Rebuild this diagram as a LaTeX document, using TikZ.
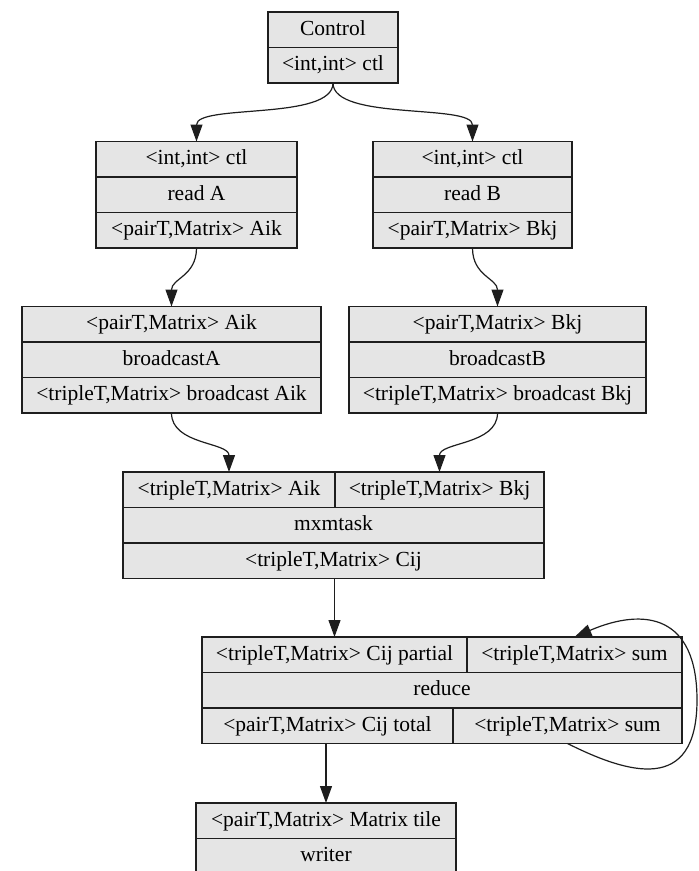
\documentclass[tikz,border=0pt]{standalone}
\usepackage{fontspec}
\setmainfont{Liberation Serif}
\usetikzlibrary{arrows.meta}
\definecolor{boxfill}{RGB}{229,229,229}
\definecolor{linec}{RGB}{30,30,30}
\newcommand{\fnt}{\fontsize{21.5}{25}\selectfont}
\tikzset{
  fld/.style={draw=linec, fill=boxfill, line width=1.1pt, inner sep=0pt, outer sep=0pt,
    text height=15pt, text depth=4.5pt, font=\fnt, minimum height=35.5pt, anchor=center},
  edge/.style={draw=linec, line width=1.2pt, -{Triangle[length=17pt,width=12pt]}}
}
\begin{document}
\begin{tikzpicture}[x=1pt,y=-1pt]
\useasboundingbox (0,0) rectangle (699,871);
% Control
\node[fld, minimum width=130pt] (c1) at (333,29.75) {Control};
\node[fld, minimum width=130pt] (c2) at (333,65.25) {<int,int> ctl};
% read A
\node[fld, minimum width=201pt] (rA1) at (196.5,159.25) {<int,int> ctl};
\node[fld, minimum width=201pt] (rA2) at (196.5,194.75) {read A};
\node[fld, minimum width=201pt] (rA3) at (196.5,230.25) {<pairT,Matrix> Aik};
% read B
\node[fld, minimum width=199pt] (rB1) at (472.5,159.25) {<int,int> ctl};
\node[fld, minimum width=199pt] (rB2) at (472.5,194.75) {read B};
\node[fld, minimum width=199pt] (rB3) at (472.5,230.25) {<pairT,Matrix> Bkj};
% broadcastA
\node[fld, minimum width=299pt] (bA1) at (171.5,324.25) {<pairT,Matrix> Aik};
\node[fld, minimum width=299pt] (bA2) at (171.5,359.75) {broadcastA};
\node[fld, minimum width=299pt] (bA3) at (171.5,395.25) {<tripleT,Matrix> broadcast Aik};
% broadcastB
\node[fld, minimum width=297pt] (bB1) at (497.5,324.25) {<pairT,Matrix> Bkj};
\node[fld, minimum width=297pt] (bB2) at (497.5,359.75) {broadcastB};
\node[fld, minimum width=297pt] (bB3) at (497.5,395.25) {<tripleT,Matrix> broadcast Bkj};
% mxmtask
\node[fld, minimum width=212pt] (m1L) at (229,489.75) {<tripleT,Matrix> Aik};
\node[fld, minimum width=209pt] (m1R) at (439.5,489.75) {<tripleT,Matrix> Bkj};
\node[fld, minimum width=421pt] (m2) at (333.5,525.25) {mxmtask};
\node[fld, minimum width=421pt] (m3) at (333.5,560.75) {<tripleT,Matrix> Cij};
% reduce
\node[fld, minimum width=265pt] (d1L) at (334.5,654.75) {<tripleT,Matrix> Cij partial};
\node[fld, minimum width=215pt] (d1R) at (574.5,654.75) {<tripleT,Matrix> sum};
\node[fld, minimum width=480pt] (d2) at (442,690.25) {reduce};
\node[fld, minimum width=251pt] (d3L) at (327.5,725.75) {<pairT,Matrix> Cij total};
\node[fld, minimum width=229pt] (d3R) at (567.5,725.75) {<tripleT,Matrix> sum};
% writer
\node[fld, minimum width=260pt] (w1) at (326,820.75) {<pairT,Matrix> Matrix tile};
\node[fld, minimum width=260pt] (w2) at (326,856.25) {writer};
% edges
\draw[edge] (c2.south) .. controls +(0,38) and +(0,-38) .. (rA1.north);
\draw[edge] (c2.south) .. controls +(0,38) and +(0,-38) .. (rB1.north);
\draw[edge] (rA3.south) .. controls +(0,28) and +(0,-28) .. (bA1.north);
\draw[edge] (rB3.south) .. controls +(0,28) and +(0,-28) .. (bB1.north);
\draw[edge] (bA3.south) .. controls +(0,32) and +(0,-30) .. (m1L.north);
\draw[edge] (bB3.south) .. controls +(0,32) and +(0,-30) .. (m1R.north);
\draw[edge] (d1L.north |- m3.south) -- (d1L.north);
\draw[edge] (w1.north |- d3L.south) -- (w1.north);
\coordinate (loopR) at (697,700);
\draw[edge] (d3R.south) .. controls +(60,30) and +(0,95) .. (loopR)
  .. controls +(0,-85) and +(70,-30) .. (d1R.north);
\end{tikzpicture}
\end{document}
